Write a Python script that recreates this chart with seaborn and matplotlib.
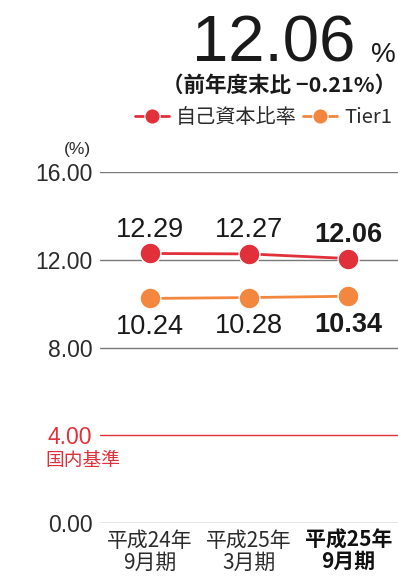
import matplotlib
matplotlib.use("Agg")
import matplotlib.pyplot as plt
from matplotlib.lines import Line2D
import seaborn as sns
import pandas as pd

# Data
periods = ["平成24年\n9月期", "平成25年\n3月期", "平成25年\n9月期"]
capital_ratio = [12.29, 12.27, 12.06]
tier1_ratio = [10.24, 10.28, 10.34]
series_names = ["自己資本比率", "Tier1"]
y_ticks = [0, 4, 8, 12, 16]
domestic_standard = 4.00
headline_change = "−0.21%"

RED = "#e2303a"
ORANGE = "#f3873f"
GRID = "#7a7a7a"
TEXT = "#2b2b2b"
CJK = ["Noto Sans CJK JP", "DejaVu Sans"]

sns.set_theme(style="white")
plt.rcParams["font.family"] = ["Liberation Sans", "Noto Sans CJK JP", "DejaVu Sans"]

df = pd.DataFrame({
    "period": list(range(len(periods))) * 2,
    "value": capital_ratio + tier1_ratio,
    "series": [series_names[0]] * len(periods) + [series_names[1]] * len(periods),
})

fig = plt.figure(figsize=(3.98, 5.78), dpi=100)
ax = fig.add_axes([0.251, 0.0952, 0.749, 0.607])

# Reference lines
for v in y_ticks:
    ax.axhline(v, color=RED if v == domestic_standard else GRID,
               lw=1.0, zorder=1)

sns.lineplot(data=df, x="period", y="value", hue="series",
             palette=[RED, ORANGE], marker="o", markersize=15,
             markeredgecolor="white", markeredgewidth=1.0,
             linewidth=2.0, ax=ax, legend=False, zorder=3)

ax.set_xlim(-0.5, 2.5)
ax.set_ylim(0, 16)
for s in ax.spines.values():
    s.set_visible(False)
ax.set_xlabel("")
ax.set_ylabel("")

ax.set_yticks(y_ticks)
ax.set_yticklabels([f"{v:.2f}" for v in y_ticks], fontsize=16.5, color=TEXT)
ax.tick_params(axis="y", length=0, pad=5.5)
for lbl, v in zip(ax.get_yticklabels(), y_ticks):
    if v == domestic_standard:
        lbl.set_color(RED)

ax.set_xticks(range(len(periods)))
ax.set_xticklabels(periods, fontsize=15, color=TEXT, linespacing=1.0,
                   family=CJK)
ax.tick_params(axis="x", length=0, pad=5)
last = ax.get_xticklabels()[-1]
last.set_fontweight("bold")
last.set_color("#111111")

# Value labels
n = len(periods)
for i, (c, t) in enumerate(zip(capital_ratio, tier1_ratio)):
    w = "bold" if i == n - 1 else "normal"
    ax.text(i, c + 0.5, f"{c:.2f}", ha="center", va="bottom",
            fontsize=19.5, fontweight=w, color="#1a1a1a")
    ax.text(i, t - 0.72, f"{t:.2f}", ha="center", va="top",
            fontsize=19.5, fontweight=w, color="#1a1a1a")

# Domestic standard label and unit
fig.text(0.113, 0.222, "国内基準", ha="left", va="top", fontsize=13.5,
         color=RED, family=CJK)
fig.text(0.228, 0.728, "(%)", ha="right", va="bottom", fontsize=12.5, color=TEXT)

# Headline
fig.text(0.893, 0.893, f"{capital_ratio[-1]:.2f}", ha="right", va="baseline",
         fontsize=47, color="#1a1a1a")
fig.text(0.995, 0.893, "%", ha="right", va="baseline", fontsize=20, color="#1a1a1a")
fig.text(0.995, 0.853, f"（前年度末比 {headline_change}）", ha="right", va="center",
         fontsize=15.5, fontweight="bold", color="#1a1a1a", family=CJK)

# Legend
handles = [Line2D([], [], color=col, lw=2.0, marker="o", markersize=11,
                  markeredgecolor="white", markeredgewidth=0.8)
           for col in (RED, ORANGE)]
leg = fig.legend(handles, series_names, loc="center right",
                 bbox_to_anchor=(1.005, 0.796), ncol=2, frameon=False,
                 fontsize=14.5, handlelength=1.7, handletextpad=0.35,
                 columnspacing=0.3, borderaxespad=0)
for t in leg.get_texts():
    t.set_color(TEXT)
    t.set_family(CJK)

fig.savefig("out.png", dpi=100)
